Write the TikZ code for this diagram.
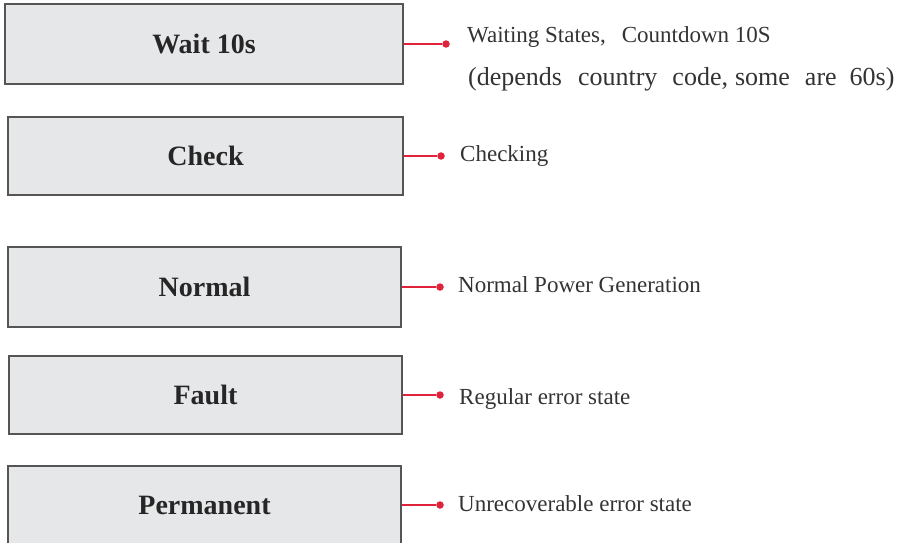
\documentclass[tikz,border=0pt]{standalone}
\usepackage{fontspec}
\setmainfont{Liberation Serif}
\definecolor{boxfill}{HTML}{E6E7E9}
\definecolor{boxdraw}{HTML}{555555}
\definecolor{pin}{HTML}{E0223B}
\definecolor{desc}{HTML}{333333}
\begin{document}
\begin{tikzpicture}[x=1pt,y=-1pt,
  statebox/.style={draw=boxdraw, fill=boxfill, line width=1.3pt, minimum width=395pt, minimum height=79pt, inner sep=0pt, font=\fontsize{28}{30}\selectfont\bfseries, text=black!85},
  pindot/.style={circle, fill=pin, inner sep=0pt, minimum size=7.5pt},
  pinline/.style={draw=pin, line width=1.1pt},
  desctext/.style={anchor=base west, inner sep=0pt, font=\fontsize{23}{26}\selectfont, text=desc}]
\useasboundingbox (0,0) rectangle (902,543);
\begin{scope}
\clip (0,0) rectangle (902,543);
\node[statebox, minimum width=398pt, minimum height=80pt] (wait) at (204,44) {Wait 10s};
\node[statebox, minimum height=78pt] (check) at (205.5,156) {Check};
\node[statebox, minimum width=393pt, minimum height=80pt] (normal) at (204.5,287) {Normal};
\node[statebox, minimum width=393pt, minimum height=78pt] (fault) at (205.5,395) {Fault};
\node[statebox, minimum width=393pt, minimum height=80pt, text height=0pt] (perm) at (204.5,506) {};
\node[font=\fontsize{28}{30}\selectfont\bfseries, text=black!85] (permlabel) at (204.5,505) {Permanent};
\end{scope}

\node[pindot] (d1) at (446,44) {};
\node[pindot] (d2) at (441,156) {};
\node[pindot] (d3) at (440,287) {};
\node[pindot] (d4) at (440,395) {};
\node[pindot] (d5) at (440,505) {};

\draw[pinline] (wait.east) -- (d1);
\draw[pinline] (check.east) -- (d2);
\draw[pinline] (normal.east) -- (d3);
\draw[pinline] (fault.east) -- (d4);
\draw[pinline] (perm.east |- d5) -- (d5);

\node[desctext] (t1) at (467,43) {Waiting States,\hspace{16pt}Countdown 10S};
\node[desctext, font=\fontsize{26}{28}\selectfont] (t1b) at (468,85.5) {(depends\hspace{16pt}country\hspace{15pt}code,\hspace{7pt}some\hspace{15pt}are\hspace{13pt}60s)};
\node[desctext] (t2) at (460,161.5) {Checking};
\node[desctext] (t3) at (458,292) {Normal Power Generation};
\node[desctext] (t4) at (459,404) {Regular error state};
\node[desctext] (t5) at (458,511) {Unrecoverable error state};
\end{tikzpicture}
\end{document}
